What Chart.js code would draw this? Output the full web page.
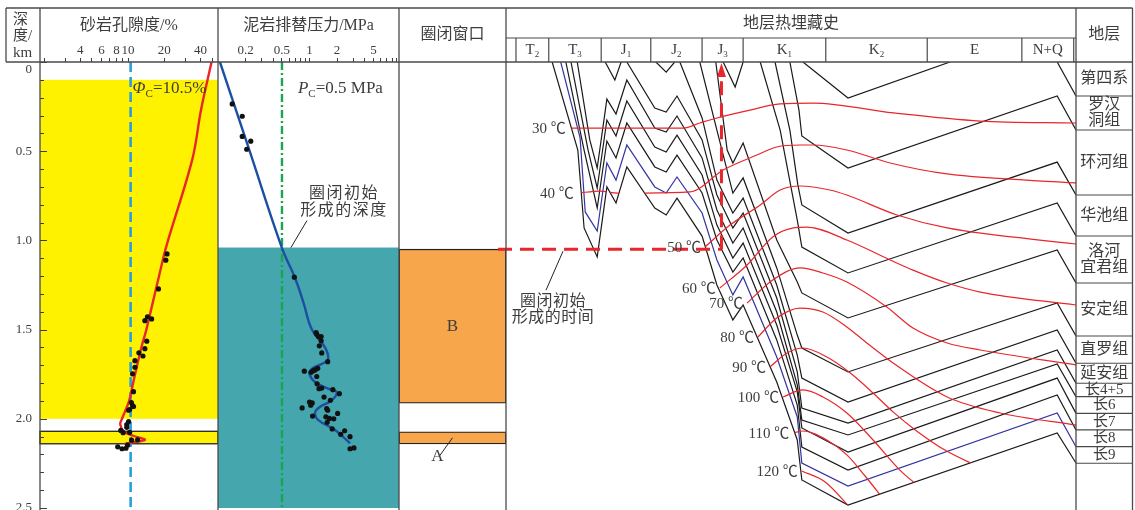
<!DOCTYPE html>
<html lang="zh">
<head>
<meta charset="utf-8">
<title>砂岩孔隙度、泥岩排替压力与地层热埋藏史</title>
<script src="https://cdn.jsdelivr.net/npm/chart.js@4.4.1/dist/chart.umd.min.js"></script>
<style>
  html, body { margin: 0; padding: 0; background: #fff; overflow: hidden; }
  #figure { position: relative; width: 1135px; height: 510px; overflow: hidden; background: #fff; }
  #figure canvas { position: absolute; left: 0; top: 0; }
</style>
</head>
<body>
<div id="figure">
  <canvas id="porosity" width="1135" height="512"></canvas>
  <canvas id="pressure" width="1135" height="512"></canvas>
  <canvas id="window" width="1135" height="512"></canvas>
  <canvas id="burial" width="1135" height="512"></canvas>
</div>
<script>
// ---------------- depth axis (km), shared by all panels ----------------
const depthTicks = [0, 0.1, 0.2, 0.3, 0.4, 0.5, 0.6, 0.7, 0.8, 0.9, 1.0, 1.1, 1.2, 1.3, 1.4, 1.5,
                    1.6, 1.7, 1.8, 1.9, 2.0, 2.1, 2.2, 2.3, 2.4, 2.5];
const depthTickLabels = [0, 0.5, 1.0, 1.5, 2.0, 2.5];

// ---------------- sandstone porosity (%) ----------------
const porosityTicks = [2, 3, 4, 5, 6, 7, 8, 9, 10, 20, 30, 40, 50];
const porosityTickLabels = [4, 6, 8, 10, 20, 40];
const porosityCutoff = 10.5;
// [depth km, porosity %]
const porosityTrend = [[0, 49.5], [0.27, 40.4], [0.54, 34.4], [1.0, 21.5], [1.1, 19.6], [1.5, 14.2],
  [1.6, 12.9], [1.8, 11.0], [1.9, 10.2], [2.0, 8.9], [2.03, 8.6], [2.07, 9.2], [2.095, 11.0],
  [2.118, 13.8], [2.135, 10.2], [2.142, 9.3]];
const porositySamples = [[1.076, 21.1], [1.111, 20.6], [1.272, 17.9], [1.428, 14.5], [1.45, 13.8],
  [1.44, 15.7], [1.565, 14.3], [1.607, 13.8], [1.63, 12.3], [1.648, 13.3], [1.674, 11.4], [1.711, 11.4],
  [1.748, 10.9], [1.848, 11.1], [1.909, 10.65], [1.926, 10.9], [1.948, 10.3], [1.931, 11.1], [1.952, 10.1],
  [2.015, 10.1], [2.032, 9.75], [2.048, 9.75], [2.065, 8.7], [2.078, 9.1], [2.076, 10.3], [2.12, 10.7],
  [2.118, 12.0], [2.157, 8.2], [2.168, 8.9], [2.165, 9.6], [2.148, 9.9]];
const sandTop = [0.1, 2.07];
const sandBase = [2.0, 2.14];

// ---------------- mudstone displacement pressure (MPa) ----------------
const pressureTicks = [0.2, 0.3, 0.4, 0.5, 0.6, 0.7, 0.8, 0.9, 1, 2, 3, 4, 5, 6, 7, 8, 9];
const pressureTickLabels = [0.2, 0.5, 1, 2, 5];
const pressureCutoff = 0.5;
const pressureTrend = [[0, 0.105], [0.5, 0.222], [1.039, 0.497], [1.211, 0.695], [1.35, 0.86], [1.498, 1.057],
  [1.6, 1.476], [1.665, 1.6], [1.689, 1.41], [1.72, 1.057], [1.748, 1.0], [1.794, 1.148], [1.831, 1.6],
  [1.85, 1.98], [1.896, 1.75], [1.933, 1.3], [1.967, 1.148], [2.007, 1.25], [2.063, 1.9], [2.137, 2.77]];
const pressureSamples = [[0.235, 0.143], [0.304, 0.184], [0.417, 0.184], [0.444, 0.228], [0.489, 0.206],
  [1.206, 0.682], [1.517, 1.18], [1.539, 1.25], [1.539, 1.34], [1.526, 1.2], [1.563, 1.34], [1.591, 1.28],
  [1.631, 1.36], [1.68, 1.58], [1.733, 0.877], [1.739, 1.04], [1.73, 1.1], [1.726, 1.15], [1.717, 1.23],
  [1.763, 1.2], [1.804, 1.21], [1.831, 1.27], [1.828, 1.36], [1.837, 1.8], [1.859, 2.12], [1.878, 1.44],
  [1.896, 1.69], [1.906, 1.0], [1.911, 1.07], [1.924, 1.03], [1.939, 0.83], [1.943, 1.54], [1.952, 1.58],
  [1.97, 2.03], [1.985, 1.08], [1.989, 1.51], [1.998, 1.65], [2.0, 1.84], [2.02, 1.56], [2.057, 1.77],
  [2.067, 2.42], [2.087, 2.19], [2.1, 2.77], [2.168, 2.77], [2.163, 3.06]];
const trapDepth = 1.04;        // depth at which the seal first forms (km)
const sealBase = 2.5;

// ---------------- trap windows ----------------
const windowNames = ['B', 'A'];
const windowTop = [1.04, 2.054];
const windowBase = [1.896, 2.122];

// ---------------- burial history (relative time 0-100, depth km) ----------------
const periodNames = [['T', '2'], ['T', '3'], ['J', '1'], ['J', '2'], ['J', '3'], ['K', '1'], ['K', '2'], ['E', ''], ['N+Q', '']];
const periodEdges = [1.75, 7.5, 16.7, 25.4, 34.4, 41.6, 56.1, 73.9, 90.5, 99.6];
const trapTime = 37.8;
const trapLineStart = -1.4;

const chang9Base = [[8.1, 0], [12.6, 0.489], [13.7, 0.922], [16.0, 1.083], [17.7, 0.694], [19.3, 0.783], [21.2, 0.583],
  [26.1, 0.811], [28.1, 0.85], [30.0, 0.756], [34.4, 0.967], [37.0, 1.239], [39.8, 1.433], [41.6, 1.35], [47.5, 1.778],
  [51.1, 2.1], [51.9, 2.322], [60.0, 2.461], [96.7, 2.061], [100, 2.228]];
const chang8Base = [[9.6, 0], [13.0, 0.422], [13.9, 0.833], [16.0, 0.939], [17.7, 0.561], [19.3, 0.656], [21.2, 0.461],
  [26.1, 0.694], [28.1, 0.728], [30.0, 0.639], [34.4, 0.839], [37.0, 1.1], [39.8, 1.294], [41.6, 1.194], [47.5, 1.639],
  [51.1, 1.972], [51.9, 2.228], [60.0, 2.356], [96.7, 1.95], [100, 2.137]];
const chang7Base = [[10.5, 0], [13.7, 0.489], [16.0, 0.811], [17.7, 0.439], [19.3, 0.533], [21.2, 0.339], [26.1, 0.583],
  [28.1, 0.611], [30.0, 0.517], [34.4, 0.728], [37.0, 0.989], [39.8, 1.167], [41.6, 1.089], [47.5, 1.544], [51.1, 1.906],
  [51.9, 2.139], [60.0, 2.267], [96.7, 1.85], [100, 2.044]];
const chang6Base = [[11.4, 0], [14.4, 0.489], [16.0, 0.7], [17.7, 0.322], [19.3, 0.411], [21.2, 0.217], [26.1, 0.472],
  [28.1, 0.5], [30.0, 0.406], [34.4, 0.628], [37.0, 0.906], [39.8, 1.089], [41.6, 1.006], [47.5, 1.461], [51.1, 1.833],
  [51.9, 2.033], [60.0, 2.167], [96.7, 1.756], [100, 1.952]];
const chang45Base = [[12.5, 0], [14.7, 0.433], [16.0, 0.589], [17.7, 0.206], [19.3, 0.289], [21.2, 0.1], [26.1, 0.367],
  [28.1, 0.389], [30.0, 0.3], [34.4, 0.533], [37.0, 0.822], [39.8, 1.006], [41.6, 0.922], [47.5, 1.389], [51.1, 1.794],
  [51.9, 1.989], [60.0, 2.072], [96.7, 1.678], [100, 1.859]];
const yananBase = [[21.2, 0], [26.1, 0.256], [28.1, 0.278], [30.0, 0.189], [34.4, 0.433], [37.0, 0.739], [39.8, 0.922],
  [41.6, 0.839], [47.5, 1.311], [51.1, 1.722], [51.9, 1.922], [60.0, 2.006], [96.7, 1.6], [100, 1.785]];
const zhiluoBase = [[30.5, 0], [34.4, 0.311], [37.0, 0.656], [39.8, 0.839], [41.6, 0.756], [47.5, 1.239], [51.1, 1.628],
  [51.9, 1.756], [60.0, 1.889], [96.7, 1.489], [100, 1.674]];
const andingBase = [[34.0, 0], [37.0, 0.378], [39.8, 0.728], [41.6, 0.644], [47.5, 1.144], [51.1, 1.517], [51.9, 1.589],
  [60.0, 1.722], [96.7, 1.339], [100, 1.522]];
const luoheBase = [[36.8, 0], [38.8, 0.489], [39.8, 0.561], [41.6, 0.45], [47.5, 0.989], [51.1, 1.222], [51.9, 1.283],
  [60.0, 1.422], [96.7, 1.044], [100, 1.228]];
const huachiBase = [[44.6, 0], [48.1, 0.378], [51.1, 0.878], [51.9, 1.028], [60.0, 1.172], [96.7, 0.783], [100, 0.967]];
const huanheBase = [[47.2, 0], [49.8, 0.378], [51.2, 0.683], [51.9, 0.794], [60.0, 0.95], [96.7, 0.556], [100, 0.739]];
const luohandongBase = [[49.8, 0], [51.4, 0.267], [51.9, 0.411], [60.0, 0.589], [96.7, 0.189], [100, 0.378]];
const quaternaryBase = [[96.7, 0], [100, 0.189]];
const erodedJ1 = [[17.4, 0], [19.1, 0.1], [20.2, 0]];
const erodedJ2 = [[26.3, 0], [28.1, 0.056], [29.6, 0]];
const erodedJ3 = [[38.1, 0], [40.2, 0.139], [41.6, 0]];
const erodedK = [[52.1, 0], [60.0, 0.2], [77.9, 0]];

// isotherms, °C
const isoTemps = [30, 40, 50, 60, 70, 80, 90, 100, 110, 120];
const iso30 = [[11.2, 0.367], [31.1, 0.367], [34.0, 0.339], [37.0, 0.311], [42.8, 0.267], [48.1, 0.233], [53.9, 0.228],
  [68.0, 0.283], [83.2, 0.328], [100, 0.339]];
const iso40 = [[12.6, 0.728], [16.5, 0.717], [19.6, 0.728], [24.4, 0.728], [32.3, 0.722], [38.1, 0.6], [44.0, 0.517],
  [47.5, 0.472], [51.6, 0.461], [53.9, 0.461], [59.8, 0.489], [67.4, 0.561], [77.4, 0.622], [100, 0.672]];
const iso50 = [[34.9, 1.028], [39.3, 0.906], [44.6, 0.794], [48.1, 0.711], [51.6, 0.689], [56.8, 0.711], [59.8, 0.739],
  [68.6, 0.85], [77.4, 0.922], [100, 1.011]];
const iso60 = [[37.5, 1.256], [42.3, 1.128], [46.8, 0.972], [50.4, 0.922], [52.8, 0.917], [59.8, 0.989], [67.4, 1.1],
  [71.4, 1.156], [77.4, 1.228], [83.2, 1.278], [100, 1.35]];
const iso70 = [[42.3, 1.339], [46.8, 1.211], [51.6, 1.144], [55.6, 1.172], [59.8, 1.222], [66.8, 1.361], [71.4, 1.478],
  [77.4, 1.561], [83.2, 1.6], [100, 1.683]];
const iso80 = [[44.2, 1.528], [47.5, 1.422], [51.6, 1.367], [55.6, 1.389], [59.8, 1.472], [63.3, 1.561], [67.9, 1.672],
  [77.4, 1.861], [86.7, 1.95], [100, 2.017]];
const iso90 = [[46.3, 1.694], [49.3, 1.617], [52.1, 1.589], [56.3, 1.639], [60.4, 1.728], [64.4, 1.839], [67.9, 1.944],
  [71.8, 2.044], [77.0, 2.156], [83.0, 2.25]];
const iso100 = [[48.6, 1.861], [52.1, 1.822], [55.6, 1.861], [59.8, 1.95], [64.4, 2.1], [69.1, 2.267], [72.5, 2.36]];
const iso110 = [[50.4, 2.061], [52.1, 2.05], [56.3, 2.1], [59.8, 2.183], [63.0, 2.3], [66.5, 2.44]];
const iso120 = [[51.9, 2.272], [56.0, 2.333], [60.5, 2.48]];

// ---------------- stratigraphic column ----------------
const strataNames = ['第四系', '罗汉\n洞组', '环河组', '华池组', '洛河\n宜君组', '安定组', '直罗组', '延安组',
                     '长4+5', '长6', '长7', '长8', '长9'];
const strataBase = [0.189, 0.378, 0.739, 0.967, 1.228, 1.522, 1.674, 1.785, 1.859, 1.952, 2.044, 2.137, 2.229];

// ======================= drawing =======================
const INK = '#3d3d3d';
const LINE = '#4a4a4a';
const RED = '#e8262b';
const SERIF = '"Liberation Serif", "Noto Sans CJK SC", serif';
const W = 1135;
const EDGE = { frameLeft: 6, depthAxis: 40, porosity: 218, pressure: 399, window: 506, burial: 1076, frameRight: 1132.5 };
const ROW = { top: 8, periods: 38, header: 62 };

function fontOf(size, style) { return (style ? style + ' ' : '') + size + 'px ' + SERIF; }

function text(ctx, s, x, y, size, opts = {}) {
  ctx.save();
  ctx.font = fontOf(size, opts.style);
  ctx.fillStyle = opts.color || INK;
  ctx.textAlign = opts.align || 'center';
  ctx.textBaseline = 'middle';
  if (opts.spacing) ctx.letterSpacing = opts.spacing + 'px';
  ctx.fillText(s, x, y);
  ctx.restore();
}

// parts: [string, kind] with kind 'n' normal, 'i' italic, 's' subscript
function richText(ctx, parts, x, y, size, align) {
  ctx.save();
  ctx.fillStyle = INK;
  ctx.textBaseline = 'middle';
  ctx.textAlign = 'left';
  const f = k => k === 's' ? fontOf(Math.round(size * 0.62)) : fontOf(size, k === 'i' ? 'italic' : '');
  let total = 0;
  parts.forEach(([s, k]) => { ctx.font = f(k); total += ctx.measureText(s).width; });
  let cx = align === 'left' ? x : x - total / 2;
  parts.forEach(([s, k]) => {
    ctx.font = f(k);
    ctx.fillText(s, cx, k === 's' ? y + size * 0.3 : y);
    cx += ctx.measureText(s).width;
  });
  ctx.restore();
}

function seg(ctx, x0, y0, x1, y1) { ctx.beginPath(); ctx.moveTo(x0, y0); ctx.lineTo(x1, y1); ctx.stroke(); }

function baseOptions(padLeft, padRight, padTop) {
  return {
    responsive: false, maintainAspectRatio: false, animation: false, devicePixelRatio: 1, events: [],
    layout: { padding: { left: padLeft, right: padRight, top: padTop, bottom: 0 } },
    plugins: { legend: { display: false }, tooltip: { enabled: false } }
  };
}

function depthScale(show) {
  const s = { type: 'linear', reverse: true, min: 0, max: 2.5, display: show, position: 'left' };
  if (show) {
    Object.assign(s, {
      afterFit: sc => { sc.width = EDGE.depthAxis; sc.paddingTop = 0; sc.paddingBottom = 0; },
      afterBuildTicks: sc => { sc.ticks = depthTicks.map(v => ({ value: v })); },
      grid: { drawOnChartArea: false, drawTicks: false },
      border: { display: false },
      ticks: {
        autoSkip: false, padding: 8, color: INK, font: { family: SERIF, size: 13 },
        callback: v => {
          const hit = depthTickLabels.find(l => Math.abs(l - v) < 1e-6);
          if (hit === undefined) return '';
          return hit === 0 ? ['', '0'] : hit.toFixed(1);
        }
      }
    });
  }
  return s;
}

function topLogScale(min, max, tickVals, labelVals, title) {
  return {
    type: 'logarithmic', position: 'top', min, max,
    afterFit: sc => { sc.height = ROW.header; sc.paddingLeft = 0; sc.paddingRight = 0; },
    afterBuildTicks: sc => { sc.ticks = tickVals.map(v => ({ value: v })); },
    grid: { drawOnChartArea: false, drawTicks: true, tickLength: 4, color: INK, lineWidth: 1 },
    border: { display: false },
    ticks: {
      autoSkip: false, maxRotation: 0, minRotation: 0, padding: 0, color: INK,
      font: { family: SERIF, size: 13 },
      callback: v => labelVals.includes(v) ? String(v) : ''
    },
    title: { display: true, text: title, color: INK, font: { family: SERIF, size: 16 }, padding: { top: 16, bottom: 0 } }
  };
}

const xy = (pairs, swap) => pairs.map(p => swap ? { x: p[1], y: p[0] } : { x: p[0], y: p[1] });

// ---------- panel 1: sandstone porosity ----------
const porosityDecor = {
  id: 'porosityDecor',
  beforeDatasetsDraw(chart) {
    const { ctx, chartArea: a, scales: { y } } = chart;
    ctx.save();
    ctx.fillStyle = '#fff200';
    sandTop.forEach((top, i) => {
      const y0 = y.getPixelForValue(top), y1 = y.getPixelForValue(sandBase[i]);
      ctx.fillRect(a.left, y0, a.right - a.left, y1 - y0);
    });
    ctx.strokeStyle = '#222';
    ctx.lineWidth = 1.3;
    const y0 = y.getPixelForValue(sandTop[1]), y1 = y.getPixelForValue(sandBase[1]);
    ctx.strokeRect(a.left, y0, a.right - a.left, y1 - y0);
    ctx.restore();
  },
  afterDraw(chart) {
    const { ctx, chartArea: a, scales: { x, y } } = chart;
    ctx.save();
    ctx.strokeStyle = INK;
    ctx.lineWidth = 1;
    y.ticks.forEach(t => {
      const py = Math.round(y.getPixelForValue(t.value)) + 0.5;
      const major = depthTickLabels.some(l => Math.abs(l - t.value) < 1e-6);
      seg(ctx, a.left, py, a.left + (major ? 7 : 4), py);
    });
    ctx.restore();
    richText(ctx, [['Φ', 'i'], ['C', 's'], ['=' + porosityCutoff + '%', 'n']],
      x.getPixelForValue(porosityCutoff) + 2, a.top + 27, 17, 'left');
    text(ctx, '深', 13, 20, 15, { align: 'left' });
    text(ctx, '度/', 13, 36, 15, { align: 'left' });
    text(ctx, 'km', 13, 53, 15, { align: 'left' });
  }
};

const chartPorosity = new Chart(document.getElementById('porosity'), {
  type: 'scatter',
  data: {
    datasets: [
      { label: '样品', data: xy(porositySamples, true), pointRadius: 2.6, pointBackgroundColor: '#111',
        pointBorderWidth: 0, showLine: false, order: 0 },
      { label: '孔隙度趋势', data: xy(porosityTrend, true), showLine: true, borderColor: RED, borderWidth: 2.4,
        pointRadius: 0, tension: 0.35, order: 1 },
      { label: '临界孔隙度', data: [{ x: porosityCutoff, y: 0 }, { x: porosityCutoff, y: 2.5 }], showLine: true,
        borderColor: '#2a9fd8', borderWidth: 2.6, borderDash: [10, 5], pointRadius: 0, order: 2 }
    ]
  },
  options: Object.assign(baseOptions(0, W - EDGE.porosity, 0), {
    scales: { x: topLogScale(1.85, 56, porosityTicks, porosityTickLabels, '砂岩孔隙度/%'), y: depthScale(true) }
  }),
  plugins: [porosityDecor]
});

// ---------- panel 2: mudstone displacement pressure ----------
const pressureDecor = {
  id: 'pressureDecor',
  beforeDatasetsDraw(chart) {
    const { ctx, chartArea: a, scales: { y } } = chart;
    ctx.save();
    ctx.fillStyle = '#45a6ad';
    const y0 = y.getPixelForValue(trapDepth), y1 = y.getPixelForValue(sealBase);
    ctx.fillRect(a.left, y0, a.right - a.left, y1 - y0);
    ctx.restore();
  },
  afterDraw(chart) {
    const { ctx, chartArea: a, scales: { x, y } } = chart;
    const cx = x.getPixelForValue(pressureCutoff);
    richText(ctx, [['P', 'i'], ['C', 's'], ['=' + pressureCutoff + ' MPa', 'n']], cx + 16, a.top + 27, 17, 'left');
    const sx = cx + 9, sy = y.getPixelForValue(trapDepth);
    ctx.save();
    ctx.strokeStyle = '#222';
    ctx.lineWidth = 1;
    seg(ctx, sx, sy, sx + 16, sy - 27);
    ctx.restore();
    text(ctx, '圈闭初始', sx + 53, sy - 54, 16, { spacing: 1.5 });
    text(ctx, '形成的深度', sx + 53, sy - 37, 16, { spacing: 1.5 });
  }
};

const chartPressure = new Chart(document.getElementById('pressure'), {
  type: 'scatter',
  data: {
    datasets: [
      { label: '样品', data: xy(pressureSamples, true), pointRadius: 2.6, pointBackgroundColor: '#111',
        pointBorderWidth: 0, showLine: false, order: 0 },
      { label: '排替压力趋势', data: xy(pressureTrend, true), showLine: true, borderColor: '#1c4fa2', borderWidth: 2.4,
        pointRadius: 0, tension: 0.4, order: 1 },
      { label: '临界排替压力', data: [{ x: pressureCutoff, y: 0 }, { x: pressureCutoff, y: 2.5 }], showLine: true,
        borderColor: '#19a64f', borderWidth: 2.4, borderDash: [8, 3, 2, 3], pointRadius: 0, order: 2 }
    ]
  },
  options: Object.assign(baseOptions(EDGE.porosity, W - EDGE.pressure, 0), {
    scales: { x: topLogScale(0.1, 9.5, pressureTicks, pressureTickLabels, '泥岩排替压力/MPa'), y: depthScale(false) }
  }),
  plugins: [pressureDecor]
});

// ---------- panel 3: trap windows ----------
const windowDecor = {
  id: 'windowDecor',
  afterDraw(chart) {
    const { ctx, chartArea: a, scales: { y } } = chart;
    const cx = (a.left + a.right) / 2;
    windowNames.forEach((n, i) => {
      const yt = y.getPixelForValue(windowTop[i]), yb = y.getPixelForValue(windowBase[i]);
      if (yb - yt > 30) {
        text(ctx, n, cx, (yt + yb) / 2, 17);
      } else {
        ctx.save();
        ctx.strokeStyle = '#222';
        ctx.lineWidth = 1;
        seg(ctx, cx, (yt + yb) / 2, cx - 13, yb + 12);
        ctx.restore();
        text(ctx, n, cx - 15, yb + 13, 17);
      }
    });
    text(ctx, '圈闭窗口', cx, 35, 16);
  }
};

const chartWindow = new Chart(document.getElementById('window'), {
  type: 'bar',
  data: {
    labels: ['圈闭窗口'],
    datasets: windowNames.map((n, i) => ({
      label: n, data: [[windowTop[i], windowBase[i]]], backgroundColor: '#f7a64c', borderColor: '#222',
      borderWidth: 1.3, borderSkipped: false, grouped: false, categoryPercentage: 1, barPercentage: 1
    }))
  },
  options: Object.assign(baseOptions(EDGE.pressure, W - EDGE.window, ROW.header), {
    scales: { x: { display: false }, y: depthScale(false) }
  }),
  plugins: [windowDecor]
});

// ---------- panel 4: thermal burial history + stratigraphic column ----------
const horizons = [chang9Base, chang8Base, chang7Base, chang6Base, chang45Base, yananBase, zhiluoBase, andingBase,
  luoheBase, huachiBase, huanheBase, luohandongBase, quaternaryBase, erodedJ1, erodedJ2, erodedJ3, erodedK];
const isotherms = [iso30, iso40, iso50, iso60, iso70, iso80, iso90, iso100, iso110, iso120];
const deepest = chang9Base;

const burialDecor = {
  id: 'burialDecor',
  beforeDatasetDraw(chart, args) {
    const ds = chart.data.datasets[args.index];
    if (!ds.isotherm) return;
    // isotherms only exist inside the sediment pile, i.e. above the deepest horizon
    const { ctx, chartArea: a, scales: { x, y } } = chart;
    ctx.save();
    ctx.beginPath();
    ctx.moveTo(a.left, a.top - 2);
    ctx.lineTo(x.getPixelForValue(deepest[0][0]), a.top - 2);
    deepest.forEach(p => ctx.lineTo(x.getPixelForValue(p[0]), y.getPixelForValue(p[1])));
    ctx.lineTo(a.right + 2, y.getPixelForValue(deepest[deepest.length - 1][1]));
    ctx.lineTo(a.right + 2, a.top - 2);
    ctx.closePath();
    ctx.clip();
  },
  afterDatasetDraw(chart, args) {
    if (chart.data.datasets[args.index].isotherm) chart.ctx.restore();
  },
  afterDraw(chart) {
    const { ctx, chartArea: a, scales: { x, y } } = chart;

    // isotherm labels
    isotherms.forEach((iso, i) => {
      text(ctx, isoTemps[i] + ' ℃', x.getPixelForValue(iso[0][0]) - 4, y.getPixelForValue(iso[0][1]) + 1, 15,
        { align: 'right' });
    });

    // arrow head of the trap-time marker
    const ax = x.getPixelForValue(trapTime), ay = y.getPixelForValue(0);
    ctx.save();
    ctx.fillStyle = RED;
    ctx.beginPath();
    ctx.moveTo(ax, ay + 1);
    ctx.lineTo(ax - 4.5, ay + 15);
    ctx.lineTo(ax + 4.5, ay + 15);
    ctx.closePath();
    ctx.fill();
    ctx.restore();

    // note on the trap-time line
    const lx = x.getPixelForValue(10), ly = y.getPixelForValue(trapDepth);
    ctx.save();
    ctx.strokeStyle = '#222';
    ctx.lineWidth = 1;
    seg(ctx, lx, ly + 2, lx - 17, ly + 41);
    ctx.restore();
    text(ctx, '圈闭初始', lx - 10, ly + 53, 16, { spacing: 0.5 });
    text(ctx, '形成的时间', lx - 10, ly + 69, 16, { spacing: 0.5 });

    // header of the burial panel
    text(ctx, '地层热埋藏史', (a.left + a.right) / 2, 24, 16);
    ctx.save();
    ctx.strokeStyle = LINE;
    ctx.lineWidth = 1.2;
    seg(ctx, a.left, ROW.periods, a.right, ROW.periods);
    const ex = periodEdges.map(t => x.getPixelForValue(t));
    ex.forEach(px => seg(ctx, px, ROW.periods, px, ROW.header));
    ctx.restore();
    periodNames.forEach(([m, s], i) => {
      richText(ctx, s ? [[m, 'n'], [s, 's']] : [[m, 'n']], (ex[i] + ex[i + 1]) / 2, 50, 15);
    });

    // stratigraphic column
    const c0 = a.right, c1 = EDGE.frameRight, ccx = (c0 + c1) / 2;
    text(ctx, '地层', ccx, 35, 16);
    ctx.save();
    ctx.strokeStyle = LINE;
    ctx.lineWidth = 1.1;
    let prev = 0;
    strataNames.forEach((name, i) => {
      const yt = y.getPixelForValue(prev), yb = y.getPixelForValue(strataBase[i]);
      seg(ctx, c0, yb, c1, yb);
      const lines = name.split('\n');
      const fs = name.startsWith('长') ? 15 : 16;
      lines.forEach((s, k) => text(ctx, s, ccx, (yt + yb) / 2 + (k - (lines.length - 1) / 2) * 16, fs));
      prev = strataBase[i];
    });
    ctx.restore();

    // figure frame
    ctx.save();
    ctx.strokeStyle = LINE;
    ctx.lineWidth = 1.3;
    seg(ctx, EDGE.frameLeft, ROW.top, EDGE.frameRight, ROW.top);
    seg(ctx, EDGE.frameLeft, ROW.header, EDGE.frameRight, ROW.header);
    seg(ctx, EDGE.frameLeft, ROW.top, EDGE.frameLeft, ROW.header);
    [EDGE.depthAxis, EDGE.porosity, EDGE.pressure, EDGE.window, EDGE.burial, EDGE.frameRight]
      .forEach(px => seg(ctx, px, ROW.top, px, 512));
    ctx.restore();
  }
};

const burialSets = [
  { label: '圈闭形成深度', data: [{ x: trapLineStart, y: trapDepth }, { x: trapTime, y: trapDepth }], showLine: true,
    borderColor: RED, borderWidth: 3, borderDash: [14, 8], pointRadius: 0, clip: false, order: 0 },
  { label: '圈闭形成时间', data: [{ x: trapTime, y: trapDepth }, { x: trapTime, y: 0.06 }], showLine: true,
    borderColor: RED, borderWidth: 3, borderDash: [14, 8], pointRadius: 0, order: 0 }
];
isotherms.forEach((iso, i) => burialSets.push({
  label: isoTemps[i] + ' ℃', data: xy(iso), showLine: true, borderColor: RED, borderWidth: 1.2, pointRadius: 0,
  cubicInterpolationMode: 'monotone', isotherm: true, order: 1
}));
horizons.forEach((h, i) => burialSets.push({
  label: 'horizon ' + i, data: xy(h), showLine: true, borderColor: h === chang8Base ? '#34349e' : '#1a1a1a',
  borderWidth: 1.2, pointRadius: 0, tension: 0, order: 2
}));

const chartBurial = new Chart(document.getElementById('burial'), {
  type: 'scatter',
  data: { datasets: burialSets },
  options: Object.assign(baseOptions(EDGE.window, W - EDGE.burial, ROW.header), {
    scales: {
      x: { type: 'linear', min: 0, max: 100, display: false },
      y: depthScale(false)
    }
  }),
  plugins: [burialDecor]
});
</script>
</body>
</html>
